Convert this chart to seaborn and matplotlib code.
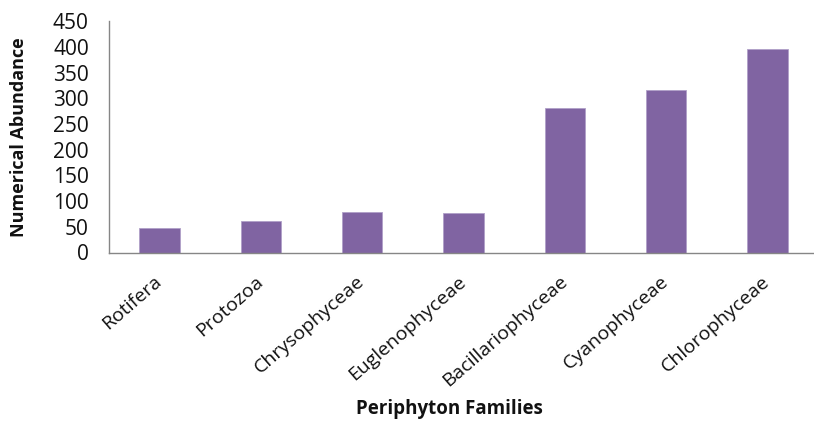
import matplotlib
matplotlib.use("Agg")
import matplotlib.pyplot as plt
import matplotlib.transforms as mtransforms
import seaborn as sns
import pandas as pd

families = ["Rotifera", "Protozoa", "Chrysophyceae", "Euglenophyceae",
            "Bacillariophyceae", "Cyanophyceae", "Chlorophyceae"]
abundance = [47, 62, 79, 77, 282, 317, 397]
yticks = [0, 50, 100, 150, 200, 250, 300, 350, 400, 450]

sns.set_theme(style="white")
plt.rcParams['font.family'] = ['Open Sans', 'DejaVu Sans']

df = pd.DataFrame({"family": families, "abundance": abundance})

fig = plt.figure(figsize=(8.14, 4.21), dpi=100)
ax = fig.add_axes([109/814, 1 - 252.5/421, (818-109)/814, (252.5-21.3)/421])

sns.barplot(data=df, x="family", y="abundance", color="#8064A2",
            width=0.40, saturation=1, ax=ax, edgecolor="#B0A0C8", linewidth=0.6)

ax.set_ylim(0, 450)
ax.set_xlim(-0.5, len(families) - 0.5)
ax.set_yticks(yticks)
ax.set_yticklabels([str(v) for v in yticks], fontsize=15, color="#111111")

ax.set_xticks(range(len(families)))
ax.set_xticklabels(families, rotation=41, ha="right", rotation_mode="anchor",
                   fontsize=14, color="#111111")
ax.tick_params(axis="x", length=0, pad=8)
shift = mtransforms.ScaledTranslation(-6/100, -9/100, fig.dpi_scale_trans)
for lab in ax.get_xticklabels():
    lab.set_transform(lab.get_transform() + shift)
# boundary tick marks
ax.set_xticks([i - 0.5 for i in range(len(families) + 1)], minor=True)
ax.tick_params(axis="x", which="minor", length=5, color="#868686", width=1, direction="out")
ax.tick_params(axis="y", length=6.5, color="#868686", width=1, direction="out", pad=8)

for s in ["top", "right"]:
    ax.spines[s].set_visible(False)
for s in ["left", "bottom"]:
    ax.spines[s].set_color("#868686")
    ax.spines[s].set_linewidth(1)

ax.set_xlabel("Periphyton Families", fontsize=13.5, fontweight="bold", color="#111111")
ax.set_ylabel("Numerical Abundance", fontsize=13, fontweight="bold", color="#111111")
ax.xaxis.set_label_coords((449-109)/(818-109), -(399-252.5)/(252.5-21.3))
ax.yaxis.set_label_coords(-(109-28)/(818-109), 0.5)

fig.savefig("out.png", dpi=100, facecolor="white")
